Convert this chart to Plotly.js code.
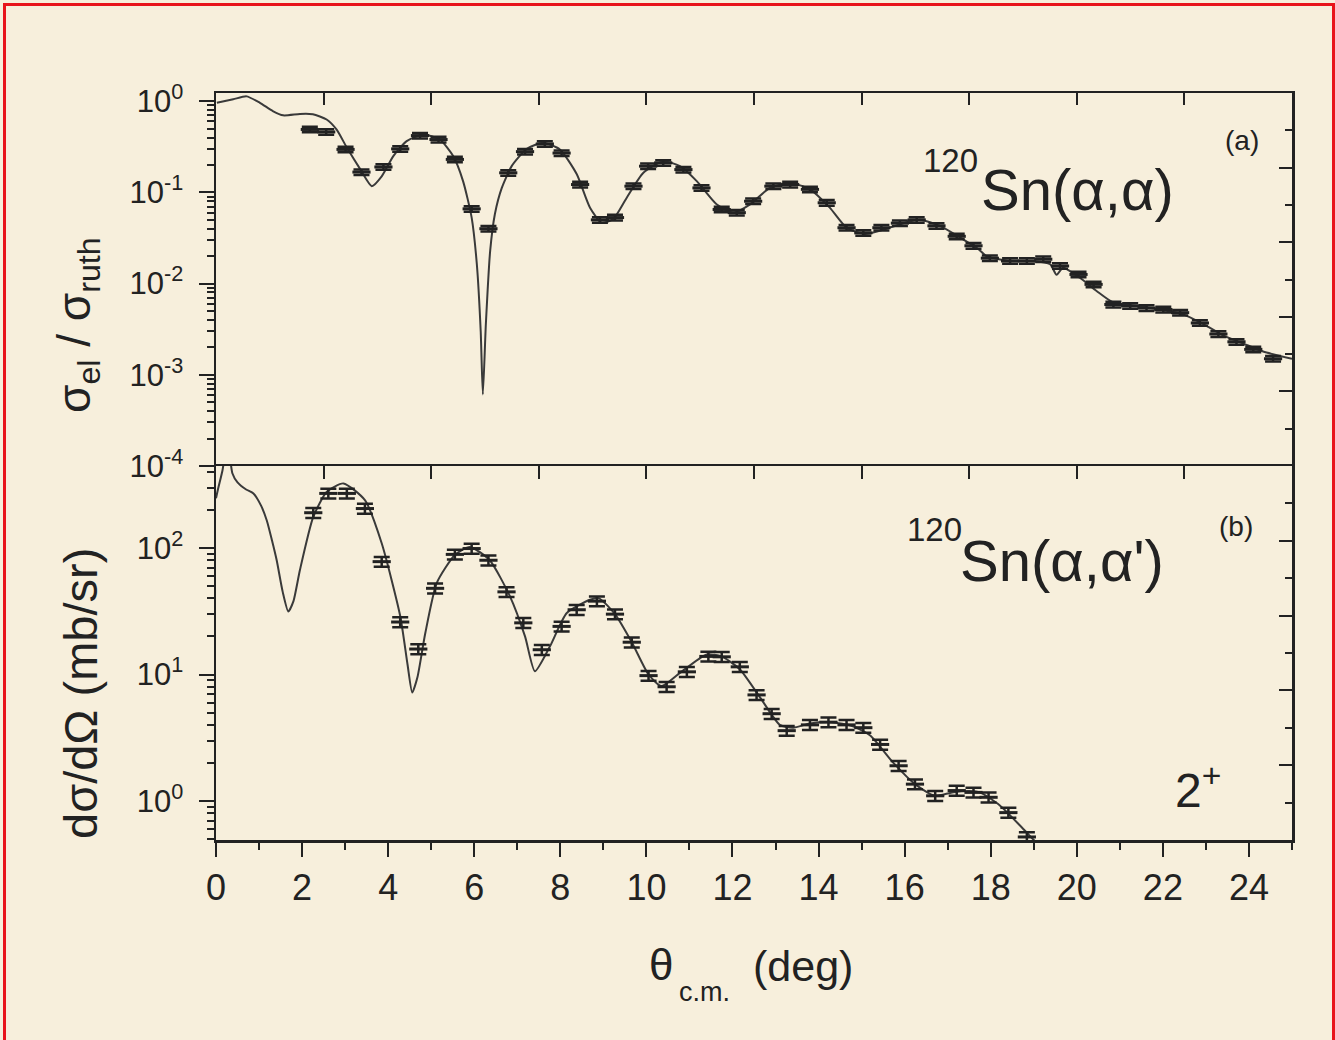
<!DOCTYPE html>
<html>
<head>
<meta charset="utf-8">
<script src="https://cdn.plot.ly/plotly-3.0.1.min.js"></script>
<style>
  html, body { margin: 0; padding: 0; background: #f7efdc; }
  #wrap { position: relative; width: 1335px; height: 1040px; }
  #chart { width: 1335px; height: 1040px; }
  #frame { position: absolute; left: 3px; top: 3px; width: 1326px; height: 1040px;
           border-top: 3px solid #e8141b; border-left: 3px solid #e8141b; border-right: 3px solid #e8141b;
           pointer-events: none; }
</style>
</head>
<body>
<div id="wrap"><div id="chart"></div><div id="frame"></div></div>
<script>
// ---------- (a) elastic 120Sn(alpha,alpha): ratio to Rutherford ----------
const elasticAngle = [2.18, 2.56, 3.01, 3.38, 3.89, 4.28, 4.74, 5.17, 5.55, 5.94, 6.33, 6.79, 7.18, 7.64, 8.03, 8.46, 8.92, 9.27, 9.70, 10.04, 10.39, 10.86, 11.28, 11.75, 12.10, 12.48, 12.95, 13.34, 13.80, 14.19, 14.65, 15.04, 15.46, 15.89, 16.28, 16.74, 17.21, 17.60, 17.98, 18.45, 18.84, 19.22, 19.61, 20.04, 20.39, 20.85, 21.24, 21.62, 22.01, 22.40, 22.86, 23.29, 23.71, 24.10, 24.56];
const elasticRatio = [0.49, 0.46, 0.296, 0.167, 0.19, 0.30, 0.42, 0.38, 0.23, 0.066, 0.040, 0.164, 0.28, 0.34, 0.27, 0.122, 0.050, 0.053, 0.117, 0.194, 0.211, 0.178, 0.112, 0.065, 0.060, 0.080, 0.117, 0.122, 0.108, 0.077, 0.041, 0.036, 0.041, 0.046, 0.050, 0.043, 0.033, 0.026, 0.019, 0.0177, 0.0177, 0.0185, 0.0156, 0.0126, 0.0098, 0.0059, 0.0057, 0.0054, 0.0052, 0.0048, 0.0037, 0.0028, 0.0023, 0.0019, 0.0015];
const elasticErrPct = 7;

const elasticFitAngle = [0.02, 0.40, 0.71, 1.02, 1.32, 1.56, 1.95, 2.25, 2.57, 2.80, 3.04, 3.35, 3.62, 3.85, 4.12, 4.43, 4.81, 5.20, 5.51, 5.74, 5.94, 6.06, 6.15, 6.20, 6.27, 6.37, 6.48, 6.64, 6.87, 7.22, 7.60, 7.99, 8.38, 8.69, 8.96, 9.23, 9.54, 9.93, 10.39, 10.78, 11.17, 11.63, 12.02, 12.41, 12.87, 13.34, 13.80, 14.26, 14.65, 15.08, 15.50, 15.97, 16.36, 16.82, 17.29, 17.71, 17.90, 18.45, 18.99, 19.38, 19.53, 19.68, 20.07, 20.46, 20.85, 21.39, 21.93, 22.47, 22.94, 23.40, 23.87, 24.33, 25.0];
const elasticFitRatio = [0.96, 1.05, 1.13, 0.96, 0.78, 0.70, 0.725, 0.72, 0.63, 0.49, 0.31, 0.18, 0.117, 0.15, 0.25, 0.365, 0.43, 0.38, 0.25, 0.133, 0.053, 0.0164, 0.0030, 0.00061, 0.0036, 0.0228, 0.058, 0.112, 0.194, 0.30, 0.35, 0.296, 0.159, 0.068, 0.0465, 0.051, 0.087, 0.164, 0.22, 0.194, 0.133, 0.074, 0.060, 0.074, 0.112, 0.127, 0.108, 0.068, 0.041, 0.035, 0.039, 0.046, 0.050, 0.043, 0.032, 0.024, 0.020, 0.0177, 0.0177, 0.0163, 0.0125, 0.0149, 0.0116, 0.0083, 0.0062, 0.0057, 0.0052, 0.0046, 0.0036, 0.0027, 0.0022, 0.0018, 0.0015];

// ---------- (b) inelastic 120Sn(alpha,alpha') 2+ ----------
const inelAngle = [2.26, 2.61, 3.04, 3.46, 3.85, 4.28, 4.70, 5.09, 5.55, 5.94, 6.33, 6.75, 7.14, 7.57, 8.03, 8.38, 8.85, 9.27, 9.66, 10.05, 10.47, 10.94, 11.44, 11.75, 12.17, 12.56, 12.91, 13.26, 13.80, 14.23, 14.65, 15.04, 15.43, 15.86, 16.24, 16.71, 17.21, 17.60, 17.95, 18.41, 18.84];
const inelXsec = [190, 270, 270, 205, 78, 26, 15.9, 48, 89, 99, 80, 45, 25.6, 15.7, 24, 32.5, 38, 30, 18, 9.8, 8.0, 10.5, 13.9, 13.8, 11.5, 6.9, 4.9, 3.6, 4.0, 4.2, 4.0, 3.8, 2.8, 1.9, 1.36, 1.10, 1.21, 1.17, 1.07, 0.81, 0.52];
const inelErrPct = 9;

const inelFitAngle = [0.0, 0.05, 0.15, 0.27, 0.38, 0.50, 0.70, 0.87, 1.05, 1.18, 1.30, 1.41, 1.55, 1.68, 1.80, 1.95, 2.26, 2.57, 2.96, 3.46, 3.85, 4.28, 4.45, 4.56, 4.68, 4.86, 5.13, 5.55, 5.90, 6.36, 6.83, 7.18, 7.41, 7.76, 8.15, 8.69, 8.90, 9.27, 9.66, 10.05, 10.35, 10.78, 11.40, 11.75, 12.17, 12.64, 13.10, 13.41, 13.80, 14.30, 14.80, 15.20, 15.74, 16.24, 16.70, 17.10, 17.50, 17.75, 18.20, 18.68, 19.03, 19.20];
const inelFitXsec = [247, 295, 410, 700, 390, 330, 290, 270, 215, 165, 115, 80, 45, 31.5, 38, 67, 176, 277, 324, 239, 109, 29, 12, 7.2, 9.5, 21, 53, 88, 102, 80, 41.5, 20, 10.6, 16.7, 30.6, 39, 40, 30, 18, 10, 8.1, 10.3, 14.4, 13.9, 11, 6.6, 4.0, 3.8, 4.1, 4.2, 3.9, 3.3, 2.0, 1.36, 1.1, 1.17, 1.2, 1.17, 0.93, 0.64, 0.48, 0.42];

// ---------- tick labels ----------
const topTickVals = [1, 0.1, 0.01, 0.001, 0.0001];
const topTickText = ['10<sup>0</sup>', '10<sup>-1</sup>', '10<sup>-2</sup>', '10<sup>-3</sup>', '10<sup>-4</sup>'];
const botTickVals = [1, 10, 100];
const botTickText = ['10<sup>0</sup>', '10<sup>1</sup>', '10<sup>2</sup>'];

// minor log ticks (axis decoration)
function logMinor(d0, d1) {
  const v = [];
  for (let d = d0; d <= d1; d++) for (let m = 2; m <= 9; m++) v.push(m * Math.pow(10, d));
  return v;
}

const FONT = 'Liberation Sans, Arial, Helvetica, sans-serif';
const INK = '#222222';
const BG = '#f7efdc';

const traces = [
  { x: elasticFitAngle, y: elasticFitRatio, xaxis: 'x2', yaxis: 'y2', mode: 'lines',
    line: { color: '#3a3a3a', width: 2, shape: 'spline', smoothing: 0.6 }, hoverinfo: 'skip', showlegend: false },
  { x: elasticAngle, y: elasticRatio, xaxis: 'x2', yaxis: 'y2', mode: 'markers',
    marker: { symbol: 'line-ew', size: 13, color: INK, line: { color: INK, width: 3 } },
    error_y: { type: 'percent', value: elasticErrPct, width: 8, thickness: 2.5, color: INK }, showlegend: false },
  { x: inelFitAngle, y: inelFitXsec, xaxis: 'x', yaxis: 'y', mode: 'lines',
    line: { color: '#3a3a3a', width: 2, shape: 'spline', smoothing: 0.6 }, hoverinfo: 'skip', showlegend: false },
  { x: inelAngle, y: inelXsec, xaxis: 'x', yaxis: 'y', mode: 'markers',
    marker: { symbol: 'line-ew', size: 13, color: INK, line: { color: INK, width: 3 } },
    error_y: { type: 'percent', value: inelErrPct, width: 8, thickness: 2.5, color: INK }, showlegend: false },
  // empty traces to activate frame axes (top / right)
  { x: [null], y: [null], xaxis: 'x3', yaxis: 'y3', mode: 'lines', hoverinfo: 'skip', showlegend: false },
  { x: [null], y: [null], xaxis: 'x4', yaxis: 'y4', mode: 'lines', hoverinfo: 'skip', showlegend: false }
];

const PLOT_TOP = 93, PLOT_BOTTOM = 840, SPLIT = 466;
const splitY = (PLOT_BOTTOM - SPLIT) / (PLOT_BOTTOM - PLOT_TOP);
const frameAxis = { showline: true, linecolor: INK, linewidth: 2.5, showgrid: false, zeroline: false, tickcolor: INK, tickwidth: 2 };

const layout = {
  width: 1335, height: 1040, autosize: false,
  margin: { l: 216, r: 43, t: PLOT_TOP, b: 1040 - PLOT_BOTTOM, pad: 0 },
  paper_bgcolor: BG, plot_bgcolor: BG,
  font: { family: FONT, color: INK },
  showlegend: false,
  xaxis: Object.assign({}, frameAxis, {
    domain: [0, 1], anchor: 'y', range: [0, 25], dtick: 2, tick0: 0,
    ticks: 'outside', ticklen: 14, ticklabelstandoff: 0,
    tickfont: { size: 36, family: FONT, color: INK },
    minor: { dtick: 1, ticks: 'outside', ticklen: 7, tickcolor: INK, tickwidth: 2 }
  }),
  yaxis: Object.assign({}, frameAxis, {
    domain: [0, splitY], anchor: 'x', type: 'log', range: [-0.308, 2.648],
    tickmode: 'array', tickvals: botTickVals, ticktext: botTickText,
    ticks: 'outside', ticklen: 15, ticklabelstandoff: 9,
    tickfont: { size: 31, family: FONT, color: INK },
    minor: { tickmode: 'array', tickvals: logMinor(-1, 2).filter(v => v >= 0.5 && v <= 450), ticks: 'outside', ticklen: 7, tickcolor: INK, tickwidth: 2 }
  }),
  xaxis2: Object.assign({}, frameAxis, {
    domain: [0, 1], anchor: 'y2', range: [0, 25], showticklabels: false, ticks: '', showline: false
  }),
  yaxis2: Object.assign({}, frameAxis, {
    domain: [splitY, 1], anchor: 'x2', type: 'log', range: [-4, 0.09],
    tickmode: 'array', tickvals: topTickVals, ticktext: topTickText,
    ticks: 'outside', ticklen: 15, ticklabelstandoff: 9,
    tickfont: { size: 31, family: FONT, color: INK },
    minor: { tickmode: 'array', tickvals: logMinor(-4, -1), ticks: 'outside', ticklen: 7, tickcolor: INK, tickwidth: 2 }
  }),
  xaxis3: Object.assign({}, frameAxis, {
    overlaying: 'x2', side: 'top', anchor: 'y3', range: [0, 25], tick0: 0, dtick: 2.5,
    ticks: 'inside', ticklen: 12, showticklabels: false
  }),
  yaxis3: Object.assign({}, frameAxis, {
    overlaying: 'y2', side: 'right', anchor: 'x3', range: [0, 1], tick0: 0, dtick: 0.2,
    ticks: 'inside', ticklen: 13, showticklabels: false,
    minor: { dtick: 0.1, ticks: 'inside', ticklen: 7, tickcolor: INK, tickwidth: 2 }
  }),
  xaxis4: Object.assign({}, frameAxis, {
    overlaying: 'x', side: 'top', anchor: 'y4', range: [0, 25], tick0: 0, dtick: 2.5,
    ticks: 'inside', ticklen: 13, showticklabels: false
  }),
  yaxis4: Object.assign({}, frameAxis, {
    overlaying: 'y', side: 'right', anchor: 'x4', range: [0, 1], tick0: 0, dtick: 0.2,
    ticks: 'inside', ticklen: 13, showticklabels: false,
    minor: { dtick: 0.1, ticks: 'inside', ticklen: 7, tickcolor: INK, tickwidth: 2 }
  }),
  annotations: []
};

function px2x(px) { return (px - 216) / 1076; }
function py2y(py) { return (PLOT_BOTTOM - py) / (PLOT_BOTTOM - PLOT_TOP); }
function note(text, px, py, size, xanchor, extra) {
  return Object.assign({ text: text, xref: 'paper', yref: 'paper', x: px2x(px), y: py2y(py),
    xanchor: xanchor || 'left', yanchor: 'middle', showarrow: false,
    font: { family: FONT, size: size, color: INK } }, extra || {});
}

layout.annotations.push(
  note('Sn(α,α)', 979, 190, 58, 'left'),
  note('120', 921, 160, 33, 'left'),
  note('(a)', 1242, 140, 28, 'center'),
  note("Sn(α,α')", 958, 560, 58, 'left'),
  note('120', 905, 529, 33, 'left'),
  note('(b)', 1236, 526, 28, 'center'),
  note('2<sup>+</sup>', 1198, 787, 48, 'center'),
  note('σ<sub>el</sub> / σ<sub>ruth</sub>', 77, 325, 46, 'center', { textangle: -90 }),
  note('dσ/dΩ (mb/sr)', 80, 694, 47, 'center', { textangle: -90 }),
  note('θ', 647, 964, 44, 'left'),
  note('c.m.', 677, 992, 27, 'left'),
  note('(deg)', 751, 966, 43, 'left')
);

Plotly.newPlot('chart', traces, layout, { displayModeBar: false, staticPlot: true });
</script>
</body>
</html>
